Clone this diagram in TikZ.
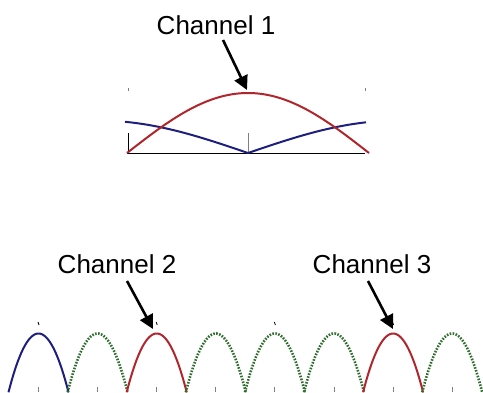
\documentclass[tikz,border=0pt]{standalone}
\usepackage{fontspec}
\setmainfont{Liberation Sans}
\usetikzlibrary{arrows.meta}
\definecolor{cblue}{HTML}{1E1E7E}
\definecolor{cred}{HTML}{B0262C}
\definecolor{cgreen}{HTML}{2F6E2F}
\tikzset{
  lbl/.style={font=\fontsize{26}{30}\selectfont, inner sep=0pt, anchor=center},
  pointer/.style={line width=2.6pt, -{Triangle[length=14pt,width=14pt]}},
  bluecurve/.style={cblue, line width=2pt},
  redcurve/.style={cred, line width=2pt},
  greencurve/.style={cgreen, line width=2.6pt, dash pattern=on 1.6pt off 1.4pt},
  axisline/.style={black, line width=0.9pt},
  tickmark/.style={gray, line width=0.9pt},
}
\begin{document}
\begin{tikzpicture}[x=1pt,y=-1pt]
\useasboundingbox (0,0) rectangle (483,392);
% ---------- top chart ----------
\draw[axisline] (127,153) -- (365,153);
\draw[axisline] (128,133) -- (128,153);
\draw[tickmark] (248,133) -- (248,153);
\draw[tickmark] (128,88) -- (128,91);
\draw[tickmark] (365,88) -- (365,91);
\draw[bluecurve] plot[domain=125:248, samples=60] (\x, {153 - 32.5*sin(90*(248-\x)/150)});
\draw[bluecurve] plot[domain=248:366, samples=60] (\x, {153 - 32.5*sin(90*(\x-248)/150)});
\draw[redcurve] plot[domain=127:369, samples=100] (\x, {153 - 60*cos(90*(\x-248)/121)});
\node[lbl] (ch1) at (216,25) {Channel 1};
\coordinate (a1s) at (223,40);
\coordinate (a1e) at (247,90);
\draw[pointer] (a1s) -- (a1e);
% ---------- bottom chart ----------
\foreach \i/\sty in {0/bluecurve,1/greencurve,2/redcurve,3/greencurve,4/greencurve,5/greencurve,6/redcurve,7/greencurve}{
  \pgfmathsetmacro{\c}{38.5+59.1*\i}
  \pgfmathsetmacro{\a}{\c-30}
  \pgfmathsetmacro{\b}{\c+30}
  \draw[\sty] plot[domain=\a:\b, samples=50] (\x, {390.5 - 57*(1-((\x-\c)/29.55)^2)});
  \draw[tickmark] (\c,387) -- (\c,392);
}
\foreach \i in {0,2,4,6}{
  \pgfmathsetmacro{\c}{38+59.1*\i}
  \draw[black, line width=0.8pt] (\c,322) -- (\c+1,325);
}
\node[lbl] (ch2) at (117,264) {Channel 2};
\node[lbl] (ch3) at (372,264) {Channel 3};
\coordinate (a2s) at (127,281);
\coordinate (a2e) at (153,329);
\coordinate (a3s) at (368,281);
\coordinate (a3e) at (393,329);
\draw[pointer] (a2s) -- (a2e);
\draw[pointer] (a3s) -- (a3e);
\end{tikzpicture}
\end{document}
